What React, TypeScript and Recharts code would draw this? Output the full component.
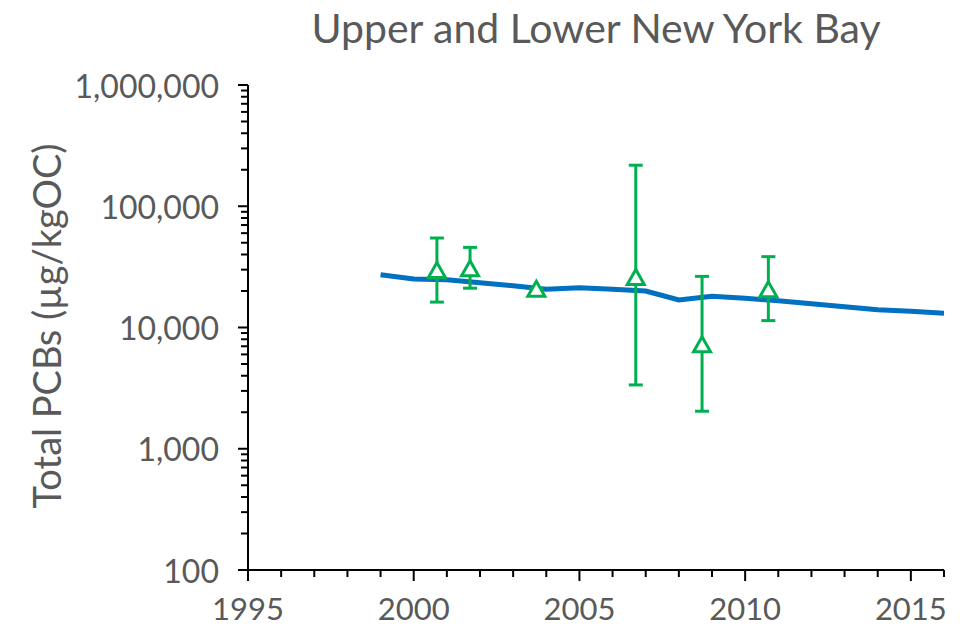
import React from "react";
import {
  ComposedChart, Line, Scatter, ErrorBar, XAxis, YAxis,
} from "recharts";

// modelled trend (blue line)
const modelYears = [1999, 2000, 2001, 2002, 2003, 2004, 2005, 2006, 2007, 2008, 2009, 2010, 2011, 2012, 2013, 2014, 2015, 2016];
const modelValues = [27200, 25100, 24800, 23400, 22100, 20700, 21300, 20700, 20000, 16900, 18100, 17400, 16600, 15700, 14800, 14000, 13600, 13100];

// observed samples (green triangles with error bars)
const obsYears = [2000.7, 2001.7, 2003.7, 2006.7, 2008.7, 2010.7];
const obsValues = [29500, 30500, 20700, 25900, 7200, 20500];
const obsLow = [16200, 21100, 20700, 3360, 2040, 11400];
const obsHigh = [54700, 45800, 20700, 218000, 26400, 38400];

const yMajor = [100, 1000, 10000, 100000, 1000000];
const xMajor = [1995, 2000, 2005, 2010, 2015];

const yTicks: number[] = [];
for (let d = 100; d < 1000000; d *= 10) {
  for (let m = 1; m < 10; m++) yTicks.push(d * m);
}
yTicks.push(1000000);
const xTicks: number[] = [];
for (let y = 1995; y <= 2016; y++) xTicks.push(y);

const TEXT = "#595959";
const GREEN = "#00B050";
const BLUE = "#0070C0";
const FONT = "Lato, sans-serif";

const lineData = modelYears.map((year, i) => ({ year, model: modelValues[i] }));
const obsData = obsYears.map((year, i) => ({
  year,
  pcb: obsValues[i],
  err: [obsValues[i] - obsLow[i], obsHigh[i] - obsValues[i]],
}));

// eslint-disable-next-line @typescript-eslint/no-explicit-any
const YTick = ({ x, y, payload }: any) => {
  const major = yMajor.includes(payload.value);
  return (
    <g>
      <line x1={x} y1={y} x2={x - (major ? 10 : 7)} y2={y} stroke="#000" strokeWidth={2} />
      {major && (
        <text x={x - 29} y={y} textAnchor="end" dominantBaseline="central"
          fill={TEXT} fontSize={32} fontFamily={FONT}>
          {payload.value.toLocaleString("en-US")}
        </text>
      )}
    </g>
  );
};

// eslint-disable-next-line @typescript-eslint/no-explicit-any
const XTick = ({ x, y, payload }: any) => {
  const major = xMajor.includes(payload.value);
  return (
    <g>
      <line x1={x} y1={y} x2={x} y2={y + (major ? 11 : 7)} stroke="#000" strokeWidth={2} />
      {major && (
        <text x={x} y={y + 38} textAnchor="middle" dominantBaseline="central"
          fill={TEXT} fontSize={31} fontFamily={FONT}>
          {payload.value}
        </text>
      )}
    </g>
  );
};

// eslint-disable-next-line @typescript-eslint/no-explicit-any
const Triangle = ({ cx, cy }: any) => (
  <polygon
    points={`${cx},${cy - 8} ${cx - 8.5},${cy + 7} ${cx + 8.5},${cy + 7}`}
    fill="#fff" stroke={GREEN} strokeWidth={3} strokeLinejoin="miter"
  />
);

export default function App() {
  return (
    <div style={{ position: "relative", width: 960, height: 628, background: "#fff", fontFamily: FONT }}>
      <style>{"body{margin:0}"}</style>
      <div style={{
        position: "absolute", left: 248, width: 696, top: 5, textAlign: "center",
        fontSize: 41, color: TEXT, lineHeight: "46px",
      }}>
        Upper and Lower New York Bay
      </div>
      <div style={{
        position: "absolute", left: 46, top: 326, transform: "translate(-50%, -50%) rotate(-90deg)",
        whiteSpace: "nowrap", fontSize: 38, color: TEXT, lineHeight: "44px",
      }}>
        Total PCBs (µg/kgOC)
      </div>
      <div style={{ position: "absolute", left: 0, top: 0 }}>
        <ComposedChart width={960} height={628} margin={{ top: 85, right: 16, bottom: 0, left: 0 }}>
          <XAxis
            type="number" dataKey="year" domain={[1995, 2016]} ticks={xTicks} interval={0}
            allowDataOverflow height={58} tickSize={0} tickMargin={0}
            axisLine={{ stroke: "#000", strokeWidth: 2 }} tickLine={false} tick={<XTick />}
          />
          <YAxis
            type="number" scale="log" domain={[100, 1000000]} ticks={yTicks} interval={0}
            allowDataOverflow width={248} tickSize={0} tickMargin={0}
            axisLine={{ stroke: "#000", strokeWidth: 2 }} tickLine={false} tick={<YTick />}
          />
          <Line
            data={lineData} dataKey="model" type="linear" stroke={BLUE} strokeWidth={5}
            dot={false} activeDot={false} isAnimationActive={false}
          />
          <Scatter data={obsData} dataKey="pcb" shape={<Triangle />} isAnimationActive={false}>
            <ErrorBar dataKey="err" direction="y" width={7} stroke={GREEN} strokeWidth={3} isAnimationActive={false} />
          </Scatter>
        </ComposedChart>
      </div>
    </div>
  );
}
